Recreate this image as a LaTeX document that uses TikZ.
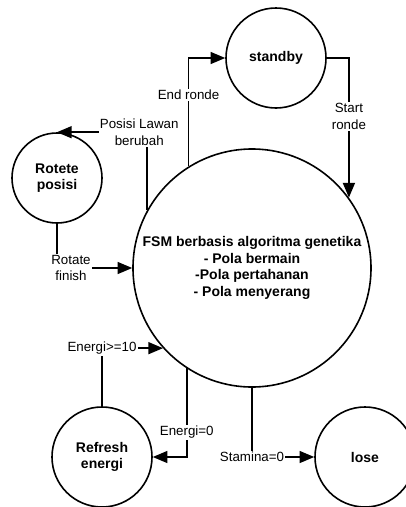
\documentclass[tikz,border=0pt]{standalone}
\usepackage{fontspec}
\setmainfont{Liberation Sans}
\usepackage{tikz}
\usetikzlibrary{arrows.meta}

\begin{document}
\begin{tikzpicture}[x=0.75pt,y=-0.75pt,line width=1.2pt,
  state/.style={draw,circle,inner sep=0pt,font=\fontsize{10.5}{12.5}\selectfont\bfseries,align=center},
  lbl/.style={fill=white,inner sep=1pt,font=\fontsize{10}{12.5}\selectfont,align=center},
  tr/.style={-{Triangle[length=11pt,width=9pt]}}]
\useasboundingbox (0,0) rectangle (406,507);
\node[state,minimum size=178.5pt] (fsm) at (252,268) {FSM berbasis algoritma genetika\\- Pola bermain\\-Pola pertahanan\\- Pola menyerang};
\node[state,minimum size=75pt] (standby) at (276,58) {standby};
\node[state,minimum size=67.5pt] (rotete) at (57,178) {Rotete\\posisi};
\node[state,minimum size=75pt] (refresh) at (102,457) {Refresh\\energi};
\node[state,minimum size=75pt] (lose) at (365,457) {lose};
\draw[tr] (fsm.122.5) |- node[lbl,pos=0.33]{End ronde} (standby.west);
\draw[tr] (standby.east) -| node[lbl,pos=0.71]{Start\\ronde} (fsm.36.2);
\draw[tr] (fsm.151) |- node[lbl,pos=0.5,xshift=-6pt]{Posisi Lawan\\berubah} (rotete.north);
\draw[tr] (rotete.south) |- node[lbl,pos=0.5,xshift=10.5pt]{Rotate\\finish} (fsm.west);
\draw[tr] (refresh.north) |- node[lbl,pos=0.5]{Energi>=10} (fsm.222.2);
\draw[tr] (fsm.237.5) |- node[lbl,pos=0.36]{Energi=0} (refresh.east);
\draw[tr] (fsm.south) |- node[lbl,pos=0.5]{Stamina=0} (lose.west);
\end{tikzpicture}
\end{document}
